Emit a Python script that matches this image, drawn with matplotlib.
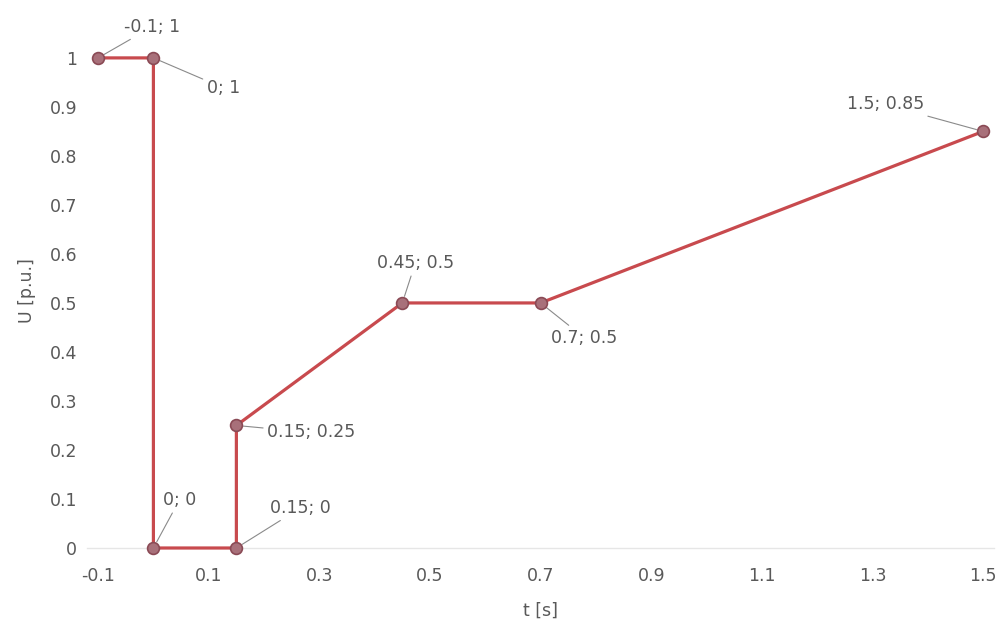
import matplotlib
matplotlib.use("Agg")
import matplotlib.pyplot as plt
import numpy as np

plt.rcParams['font.family'] = ['DejaVu Sans']

t_vals = [-0.1, 0.0, 0.0, 0.15, 0.15, 0.45, 0.7, 1.5]
u_vals = [1.0, 1.0, 0.0, 0.0, 0.25, 0.5, 0.5, 0.85]
x_ticks = [-0.1, 0.1, 0.3, 0.5, 0.7, 0.9, 1.1, 1.3, 1.5]
y_ticks = [0, 0.1, 0.2, 0.3, 0.4, 0.5, 0.6, 0.7, 0.8, 0.9, 1]
# label offsets (pixels) of each point label
label_offsets = [(54, 31), (70, -30), (26, 48), (64, 40), (75, -7), (13, 40), (44, -35), (-98, 27)]

fig = plt.figure(figsize=(9.98, 6.23), dpi=100)
ax = fig.add_axes([0.0872, 0.1204, 0.909, 0.826])

line_col = '#c84a4e'
ax.plot(t_vals, u_vals, color=line_col, lw=2.3, zorder=3, clip_on=False)
ax.plot(t_vals, u_vals, ls='none', marker='o', ms=8.5, mfc='#a8707a', mec='#8a4a55',
        mew=1.2, zorder=4, clip_on=False)

txt_col = '#595959'
fs = 12.5
for x, y, (dx, dy) in zip(t_vals, u_vals, label_offsets):
    lab = f"{x:g}; {y:g}"
    ax.annotate(lab, xy=(x, y), xytext=(dx, dy), textcoords='offset pixels',
                ha='center', va='center', fontsize=fs, color=txt_col,
                arrowprops=dict(arrowstyle='-', color='#8a8a8a', lw=0.8,
                                shrinkA=1, shrinkB=5))

ax.set_xlim(-0.12, 1.52)
ax.set_ylim(0, 1.05)
ax.set_xticks(x_ticks)
ax.set_xticklabels([f"{v:g}" for v in x_ticks])
ax.set_yticks(y_ticks)
ax.set_yticklabels([f"{v:g}" for v in y_ticks])
ax.tick_params(axis='x', length=0, labelsize=fs, labelcolor=txt_col, pad=14)
ax.tick_params(axis='y', length=0, labelsize=fs, labelcolor=txt_col, pad=7)
for s in ['top', 'right', 'left']:
    ax.spines[s].set_visible(False)
ax.spines['bottom'].set_color('#e6e6e6')
ax.spines['bottom'].set_linewidth(1.0)

ax.set_xlabel('t [s]', fontsize=fs, color=txt_col, labelpad=12)
ax.set_ylabel('U [p.u.]', fontsize=fs, color=txt_col, labelpad=10)

fig.savefig('out.png', dpi=100)
